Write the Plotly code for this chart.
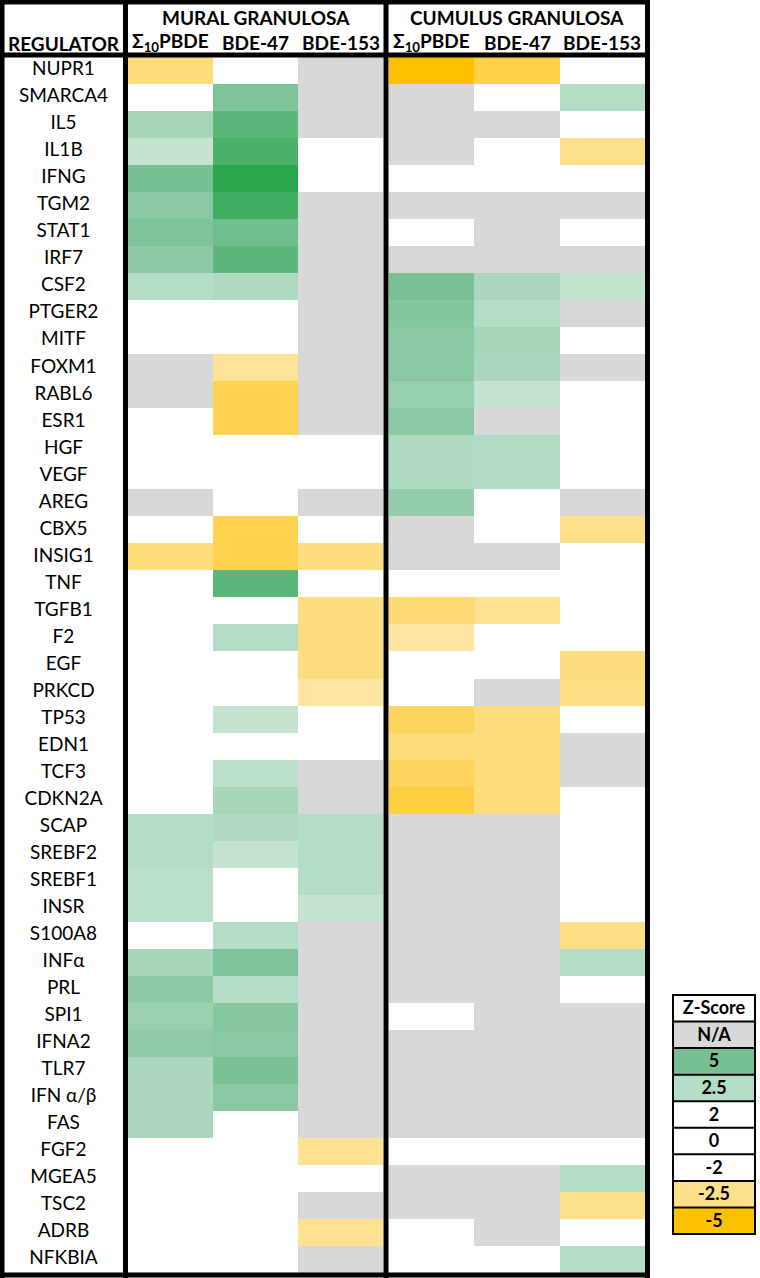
import plotly.graph_objects as go

# rows of the table, top to bottom
regulators = ["NUPR1", "SMARCA4", "IL5", "IL1B", "IFNG", "TGM2", "STAT1", "IRF7",
              "CSF2", "PTGER2", "MITF", "FOXM1", "RABL6", "ESR1", "HGF", "VEGF",
              "AREG", "CBX5", "INSIG1", "TNF", "TGFB1", "F2", "EGF", "PRKCD",
              "TP53", "EDN1", "TCF3", "CDKN2A", "SCAP", "SREBF2", "SREBF1", "INSR",
              "S100A8", "INFα", "PRL", "SPI1", "IFNA2", "TLR7", "IFN α/β", "FAS",
              "FGF2", "MGEA5", "TSC2", "ADRB", "NFKBIA"]

col_labels = ["Σ<sub>10</sub>PBDE", "BDE-47", "BDE-153"]

# z-scores, None = N/A
mural_sum = [-2.8, 0, 3.1, 2.4, 5.0, 4.3, 4.7, 4.2, 2.5, 0, 0, None, None, 0, 0, 0,
             None, 0, -2.75, 0, 0, 0, 0, 0, 0, 0, 0, 0, 2.5, 2.5, 2.45, 2.45,
             0, 3.1, 4.2, 3.6, 4.0, 3.0, 3.0, 3.0, 0, 0, 0, 0, 0]
mural_bde47 = [0, 4.7, 6.0, 6.7, 7.9, 7.1, 5.3, 6.0, 2.8, 0, 0, -2.45, -3.5, -3.5, 0, 0,
               0, -3.6, -3.6, 6.1, 0, 2.5, 0, 0, 2.4, 0, 2.45, 3.1, 2.8, 2.4, 0, 0,
               2.5, 4.75, 2.5, 4.4, 4.3, 4.9, 4.25, 0, 0, 0, 0, 0, 0]
mural_bde153 = [None, None, None, 0, 0, None, None, None, None, None, None, None, None, None, 0, 0,
                None, 0, -2.7, 0, -2.7, -2.7, -2.7, -2.4, 0, 0, None, None, 2.5, 2.5, 2.5, 2.4,
                None, None, None, None, None, None, None, None, -2.47, 0, None, -2.47, None]
cumulus_sum = [-5, None, None, None, 0, None, 0, None, 4.9, 4.5, 4.3, 4.3, 3.7, 4.3, 2.7, 2.7,
               3.8, None, None, 0, -2.9, -2.4, 0, 0, -3.35, -2.75, -3.3, -3.8, None, None, None, None,
               None, None, None, 0, None, None, None, None, 0, None, None, 0, 0]
cumulus_bde47 = [-3.7, 0, None, 0, 0, None, None, None, 3.0, 2.5, 3.1, 3.0, 2.4, None, 2.6, 2.6,
                 0, 0, None, 0, -2.47, 0, 0, None, -2.75, -2.75, -2.75, -2.75, None, None, None, None,
                 None, None, None, None, None, None, None, None, 0, None, None, None, 0]
cumulus_bde153 = [0, 2.5, 0, -2.5, 0, None, 0, None, 2.4, None, 0, None, 0, 0, 0, 0,
                  None, -2.5, 0, 0, 0, 0, -2.7, -2.6, 0, None, None, 0, 0, 0, 0, 0,
                  -2.6, 2.5, 0, None, None, None, None, None, 0, 2.5, -2.5, 0, 2.5]

legend_labels = ["Z-Score", "N/A", "5", "2.5", "2", "0", "-2", "-2.5", "-5"]
legend_values = [None, None, 5, 2.5, 2, 0, -2, -2.5, -5]

W, H = 760, 1278
FONT = "Lato"
NA_GRAY = "#D8D8D8"

zmin, zmax = -5, 8
anchors = [(-5, "#FFC000"), (-2.5, "#FEE08B"), (-2, "#FFFFFF"), (2, "#FFFFFF"),
           (2.5, "#B5DCC6"), (5, "#78C094"), (8, "#27A649")]
cscale = [[(v - zmin) / (zmax - zmin), c] for v, c in anchors]


def px(x):
    return x / W


def py(y):
    return (H - y) / H


def grid(*cols):
    return [list(r) for r in zip(*cols)]


def na_mask(z):
    return [[1 if v is None else None for v in row] for row in z]


mural = grid(mural_sum, mural_bde47, mural_bde153)
cumulus = grid(cumulus_sum, cumulus_bde47, cumulus_bde153)

fig = go.Figure()

# row labels
fig.add_trace(go.Scatter(x=[0.5] * len(regulators), y=regulators, mode="text",
                         text=regulators, textfont=dict(family=FONT, size=19, color="black"),
                         xaxis="x", yaxis="y", hoverinfo="skip", showlegend=False))

for z, xa in [(mural, "x2"), (cumulus, "x3")]:
    fig.add_trace(go.Heatmap(z=na_mask(z), x=col_labels, y=regulators, xaxis=xa, yaxis="y",
                             colorscale=[[0, NA_GRAY], [1, NA_GRAY]], showscale=False,
                             hoverinfo="skip"))
    fig.add_trace(go.Heatmap(z=z, x=col_labels, y=regulators, xaxis=xa, yaxis="y",
                             colorscale=cscale, zmin=zmin, zmax=zmax, showscale=False,
                             hoverinfo="skip"))

# z-score key
leg_z = [[v] for v in legend_values]
leg_na = [[1 if lab == "N/A" else None] for lab in legend_labels]
leg_text = [["<b>%s</b>" % lab] for lab in legend_labels]
fig.add_trace(go.Heatmap(z=leg_na, x=["key"], y=legend_labels, xaxis="x4", yaxis="y4",
                         colorscale=[[0, NA_GRAY], [1, NA_GRAY]], showscale=False,
                         hoverinfo="skip"))
fig.add_trace(go.Heatmap(z=leg_z, x=["key"], y=legend_labels, xaxis="x4", yaxis="y4",
                         colorscale=cscale, zmin=zmin, zmax=zmax, showscale=False,
                         text=leg_text, texttemplate="%{text}",
                         textfont=dict(family=FONT, size=18, color="black"),
                         hoverinfo="skip"))

hidden = dict(visible=False, showgrid=False, zeroline=False, fixedrange=True)
ydom = [py(1273), py(57)]
n = len(regulators)
fig.update_layout(
    width=W, height=H, margin=dict(l=0, r=0, t=0, b=0),
    paper_bgcolor="white", plot_bgcolor="white", template="none",
    font=dict(family=FONT, color="black"),
    xaxis=dict(domain=[px(4), px(123)], range=[0, 1], anchor="y", **hidden),
    xaxis2=dict(domain=[px(128), px(383)], range=[-0.5, 2.5], type="category", anchor="y", **hidden),
    xaxis3=dict(domain=[px(389), px(645)], range=[-0.5, 2.5], type="category", anchor="y", **hidden),
    yaxis=dict(domain=ydom, type="category", range=[n - 0.5, -0.5], **hidden),
    xaxis4=dict(domain=[px(673), px(755)], range=[-0.5, 0.5], type="category", anchor="y4", **hidden),
    yaxis4=dict(domain=[py(1234), py(995)], type="category", anchor="x4",
                range=[len(legend_labels) - 0.5, -0.5], **hidden),
    hovermode=False,
)

# headers
hdr = dict(family=FONT, size=19, color="black", weight="bold")
center = dict(showarrow=False, xanchor="center", yanchor="middle", font=hdr)
fig.add_annotation(text="MURAL GRANULOSA", xref="paper", yref="paper",
                   x=px((128 + 383) / 2), y=py(18), **center)
fig.add_annotation(text="CUMULUS GRANULOSA", xref="paper", yref="paper",
                   x=px((389 + 645) / 2), y=py(18), **center)
fig.add_annotation(text="REGULATOR", xref="x", yref="paper", x=0.5, y=py(43), **center)
for xa in ["x2", "x3"]:
    for i, lab in enumerate(col_labels):
        fig.add_annotation(text=lab, xref=xa, yref="paper", x=i, y=py(42), **center)

# thick table rules
line = dict(color="black", width=5)
for yy in [2, 55, 1275]:
    fig.add_shape(type="line", xref="paper", yref="paper", x0=0, x1=px(650),
                  y0=py(yy), y1=py(yy), line=line)
for xx in [2, 125.5, 386, 647.5]:
    fig.add_shape(type="line", xref="paper", yref="paper", x0=px(xx), x1=px(xx),
                  y0=0, y1=1, line=line)

# key borders
fig.add_shape(type="rect", xref="x4 domain", yref="y4 domain", x0=0, x1=1, y0=0, y1=1,
              line=dict(color="black", width=2))
for k in range(1, len(legend_labels)):
    fig.add_shape(type="line", xref="x4 domain", yref="y4", x0=0, x1=1,
                  y0=k - 0.5, y1=k - 0.5, line=dict(color="black", width=2))

fig.write_html("out.html", config={"displayModeBar": False},
               post_script="document.body.style.margin='0px';")
